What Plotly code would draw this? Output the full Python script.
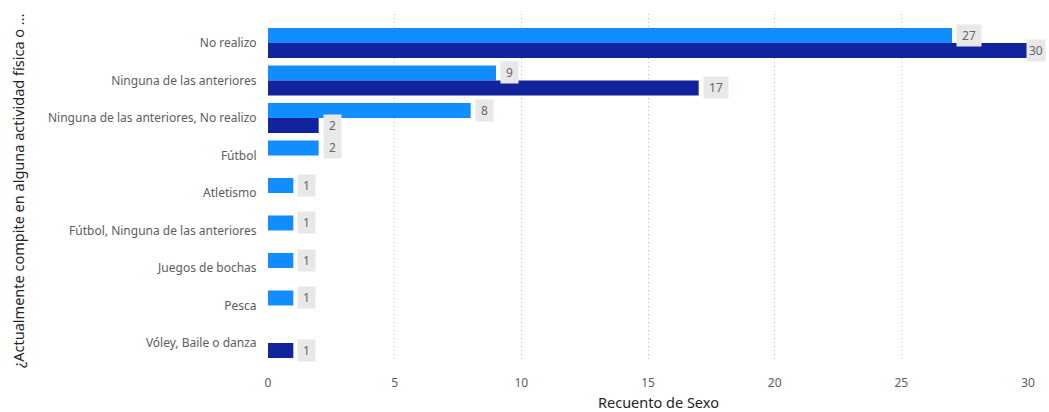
import plotly.graph_objects as go

# Activity categories (top to bottom) and counts per sex
categorias = [
    "No realizo",
    "Ninguna de las anteriores",
    "Ninguna de las anteriores, No realizo",
    "Fútbol",
    "Atletismo",
    "Fútbol, Ninguna de las anteriores",
    "Juegos de bochas",
    "Pesca",
    "Vóley, Baile o danza",
]
femenino = [27, 9, 8, 2, 1, 1, 1, 1, None]
masculino = [30, 17, 2, None, None, None, None, None, 1]
ticks_x = [0, 5, 10, 15, 20, 25, 30]

COLOR_A = "#118DFF"
COLOR_B = "#12239E"
FONT = "Segoe UI, Noto Sans, Open Sans, sans-serif"
X_MAX = ticks_x[-1]

fig = go.Figure()
fig.add_trace(go.Bar(y=categorias, x=femenino, orientation="h", name="Femenino",
                     marker=dict(color=COLOR_A, line=dict(width=0))))
fig.add_trace(go.Bar(y=categorias, x=masculino, orientation="h", name="Masculino",
                     marker=dict(color=COLOR_B, line=dict(width=0))))

# Value labels in grey boxes just past the end of each bar
for serie, offset in ((femenino, -0.2), (masculino, 0.2)):
    for i, v in enumerate(serie):
        if v is None:
            continue
        at_edge = v >= X_MAX
        fig.add_annotation(
            x=v, y=i + offset, xref="x", yref="y",
            text=f"{v}" if at_edge else f" {v} ", showarrow=False,
            xanchor="left", yanchor="middle", xshift=-2 if at_edge else 4,
            bgcolor="#E8E8E8", borderpad=2,
            font=dict(family=FONT, size=12, color="#666666"),
        )

fig.update_layout(
    width=1049, height=412,
    margin=dict(l=268, r=21, t=14, b=50),
    paper_bgcolor="white", plot_bgcolor="white",
    barmode="group", bargap=0.2, bargroupgap=0,
    showlegend=False,
    font=dict(family=FONT, size=12, color="#605E5C"),
)
fig.update_xaxes(
    range=[0, X_MAX], tickvals=ticks_x, showgrid=True,
    gridcolor="#BDBDBD", griddash="1px,3px", gridwidth=1,
    zeroline=False, showline=False,
    ticks="outside", ticklen=10, tickcolor="rgba(0,0,0,0)",
    tickfont=dict(size=12, color="#605E5C"),
)
fig.update_yaxes(
    type="category", categoryorder="array", categoryarray=categorias,
    range=[8.507, -0.773], showgrid=False, zeroline=False, showline=False,
    ticks="outside", ticklen=8, tickcolor="rgba(0,0,0,0)",
    tickfont=dict(size=12, color="#605E5C"),
)

# Axis titles
fig.add_annotation(
    text="Recuento de Sexo", xref="paper", yref="paper",
    x=(658 - 268) / 760, y=-(402 - 362) / 348, xanchor="center", yanchor="middle",
    showarrow=False, font=dict(family=FONT, size=14.5, color="#252423"),
)
fig.add_annotation(
    text="¿Actualmente compite en alguna actividad física o ...",
    xref="paper", yref="paper", x=-(268 - 18) / 760, y=(362 - 190) / 348,
    xanchor="center", yanchor="middle", textangle=-90,
    showarrow=False, font=dict(family=FONT, size=14.5, color="#252423"),
)

fig.write_html("out.html")
